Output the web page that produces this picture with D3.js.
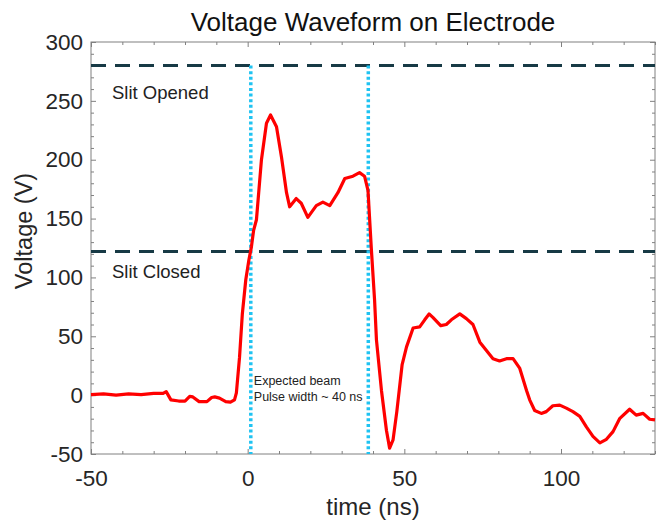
<!DOCTYPE html>
<html>
<head>
<meta charset="utf-8">
<script src="https://cdn.jsdelivr.net/npm/d3@7"></script>
<style>
    body { margin: 0; background: #fff; }
    svg text { font-family: Arial, "Liberation Sans", sans-serif; }
</style>
</head>
<body>
<svg id="chart" width="666" height="521"></svg>
<script>
// waveform: time in ns, voltage in V
const timeNs = [-50, -46, -42, -38, -34, -30, -27, -26, -24.5, -22, -20, -18.5, -17.5, -15.5, -13, -11.5, -10.5, -9, -7, -5.5, -4.2,
    -3.6, -2.6, -1.7, -0.6, 0.4, 1.2, 1.9, 2.8, 4.4, 6.0, 7.3, 9.2, 10.8, 12.4, 13.4, 15.5, 17.1, 19.2, 21.9, 24, 26.2,
    28.8, 31, 33.6, 35.7, 37.3, 38.4, 39.5, 40.5, 41.1, 42.7, 44.3, 45.3, 46.4, 47.6, 49.3, 50.7, 52.8, 54.9, 56.5,
    57.9, 59.1, 61.6, 63.4, 65, 67.7, 69.8, 71.9, 74.1, 76.2, 78.3, 80.4, 82.6, 84.7, 86.8, 89, 90, 91.6, 93.7, 95.3,
    97.4, 99.6, 101.7, 103.8, 106, 108.1, 110.2, 112.4, 114.5, 116.6, 118.7, 121.9, 124, 126.2, 128.3, 130];
const voltage = [0.5, 1, 0, 1, 0.5, 1.5, 1.5, 3, -4, -5, -5, -1, -1.5, -5.5, -5.5, -2, -1.5, -2.5, -5.5, -6, -4,
    2, 32, 69, 98, 115, 126, 140, 149, 200, 231, 238, 228, 202, 172, 160, 167, 163, 151, 161, 164, 161,
    172, 184, 186, 189, 186, 174, 123, 81, 47, 4, -30, -45, -38, -14, 26, 41, 57, 58, 64,
    69, 66, 59, 60, 64, 69, 65, 60, 45, 38, 31, 29, 31, 31, 23, 4, -4, -13, -15.5, -14,
    -9, -8.5, -11, -14, -18, -27, -35, -40.5, -37.5, -31, -20, -12, -17, -15.5, -20.5, -21];

const xTicks = [-50, 0, 50, 100];
const yTicks = [-50, 0, 50, 100, 150, 200, 250, 300];

// reference levels and markers
const slitLevels = [280, 122];
const slitLabels = ["Slit Opened", "Slit Closed"];
const beamTimes = [1, 38.5];
const beamNote = ["Expected beam", "Pulse width ~ 40 ns"];

const svg = d3.select("#chart");
const plotLeft = 91, plotRight = 655, plotTop = 42, plotBottom = 454;

const x = d3.scaleLinear().domain([-50, 130]).range([plotLeft, plotRight]);
const y = d3.scaleLinear().domain([-50, 300]).range([plotBottom, plotTop]);

const axisColor = "#808080";
const labelColor = "#262626";

// minor ticks every 10
const xMinor = d3.range(-50, 131, 10).filter(d => !xTicks.includes(d));
const yMinor = d3.range(-50, 301, 10).filter(d => !yTicks.includes(d));

function styleAxis(g) {
    g.select(".domain").remove();
    g.selectAll("line").attr("stroke", axisColor);
    g.selectAll("text").attr("fill", labelColor).attr("font-size", 22.5);
}

// bottom and left with labels
svg.append("g")
    .attr("transform", `translate(0,${plotBottom})`)
    .call(d3.axisBottom(x).tickValues(xTicks).tickSize(-5).tickPadding(16).tickFormat(d => String(d)))
    .call(styleAxis);
svg.append("g")
    .attr("transform", `translate(0,${plotBottom})`)
    .call(d3.axisBottom(x).tickValues(xMinor).tickSize(-3).tickFormat(""))
    .call(styleAxis);
svg.append("g")
    .attr("transform", `translate(${plotLeft},0)`)
    .call(d3.axisLeft(y).tickValues(yTicks).tickSize(-5).tickPadding(8).tickFormat(d => String(d)))
    .call(styleAxis);
svg.append("g")
    .attr("transform", `translate(${plotLeft},0)`)
    .call(d3.axisLeft(y).tickValues(yMinor).tickSize(-3).tickFormat(""))
    .call(styleAxis);

// top and right, ticks only
svg.append("g")
    .attr("transform", `translate(0,${plotTop})`)
    .call(d3.axisTop(x).tickValues(xTicks).tickSize(-5).tickFormat(""))
    .call(styleAxis);
svg.append("g")
    .attr("transform", `translate(0,${plotTop})`)
    .call(d3.axisTop(x).tickValues(xMinor).tickSize(-3).tickFormat(""))
    .call(styleAxis);
svg.append("g")
    .attr("transform", `translate(${plotRight},0)`)
    .call(d3.axisRight(y).tickValues(yTicks).tickSize(-5).tickFormat(""))
    .call(styleAxis);
svg.append("g")
    .attr("transform", `translate(${plotRight},0)`)
    .call(d3.axisRight(y).tickValues(yMinor).tickSize(-3).tickFormat(""))
    .call(styleAxis);

// box
svg.append("rect")
    .attr("x", plotLeft).attr("y", plotTop)
    .attr("width", plotRight - plotLeft).attr("height", plotBottom - plotTop)
    .attr("fill", "none")
    .attr("stroke", axisColor)
    .attr("stroke-width", 1);

// dashed slit levels
svg.selectAll(".slit")
    .data(slitLevels)
    .enter().append("line")
    .attr("x1", plotLeft).attr("x2", plotRight)
    .attr("y1", d => y(d)).attr("y2", d => y(d))
    .attr("stroke", "#173a45")
    .attr("stroke-width", 3)
    .attr("stroke-dasharray", "15,9");

// labels sit below each dashed level
const labelDrop = [33, 26];
svg.selectAll(".slit-label")
    .data(slitLabels)
    .enter().append("text")
    .attr("x", 112)
    .attr("y", (d, i) => y(slitLevels[i]) + labelDrop[i])
    .attr("font-family", "'Open Sans', 'Noto Sans', sans-serif")
    .attr("font-size", 18.5)
    .attr("fill", "#222")
    .text(d => d);

// dotted beam window
svg.selectAll(".beam")
    .data(beamTimes)
    .enter().append("line")
    .attr("x1", d => x(d)).attr("x2", d => x(d))
    .attr("y1", y(slitLevels[0])).attr("y2", plotBottom)
    .attr("stroke", "#1fc3f2")
    .attr("stroke-width", 3.5)
    .attr("stroke-dasharray", "3,2.6");

// waveform
const line = d3.line()
    .x((d, i) => x(timeNs[i]))
    .y(d => y(d));

svg.append("path")
    .datum(voltage)
    .attr("fill", "none")
    .attr("stroke", "#ff0000")
    .attr("stroke-width", 3.2)
    .attr("stroke-linejoin", "round")
    .attr("d", line);

// beam note
svg.selectAll(".note")
    .data(beamNote)
    .enter().append("text")
    .attr("x", x(beamTimes[0]) + 3)
    .attr("y", (d, i) => 385 + i * 16)
    .attr("font-family", "'Open Sans', 'Noto Sans', sans-serif")
    .attr("font-size", 12.5)
    .attr("fill", "#222")
    .text(d => d);

// titles
svg.append("text")
    .attr("x", (plotLeft + plotRight) / 2)
    .attr("y", 31)
    .attr("text-anchor", "middle")
    .attr("font-size", 26)
    .attr("fill", "#111")
    .text("Voltage Waveform on Electrode");

svg.append("text")
    .attr("x", (plotLeft + plotRight) / 2)
    .attr("y", 515)
    .attr("text-anchor", "middle")
    .attr("font-size", 24)
    .attr("fill", labelColor)
    .text("time (ns)");

svg.append("text")
    .attr("transform", `translate(32,231) rotate(-90)`)
    .attr("text-anchor", "middle")
    .attr("font-size", 23.5)
    .attr("fill", labelColor)
    .text("Voltage (V)");
</script>
</body>
</html>
